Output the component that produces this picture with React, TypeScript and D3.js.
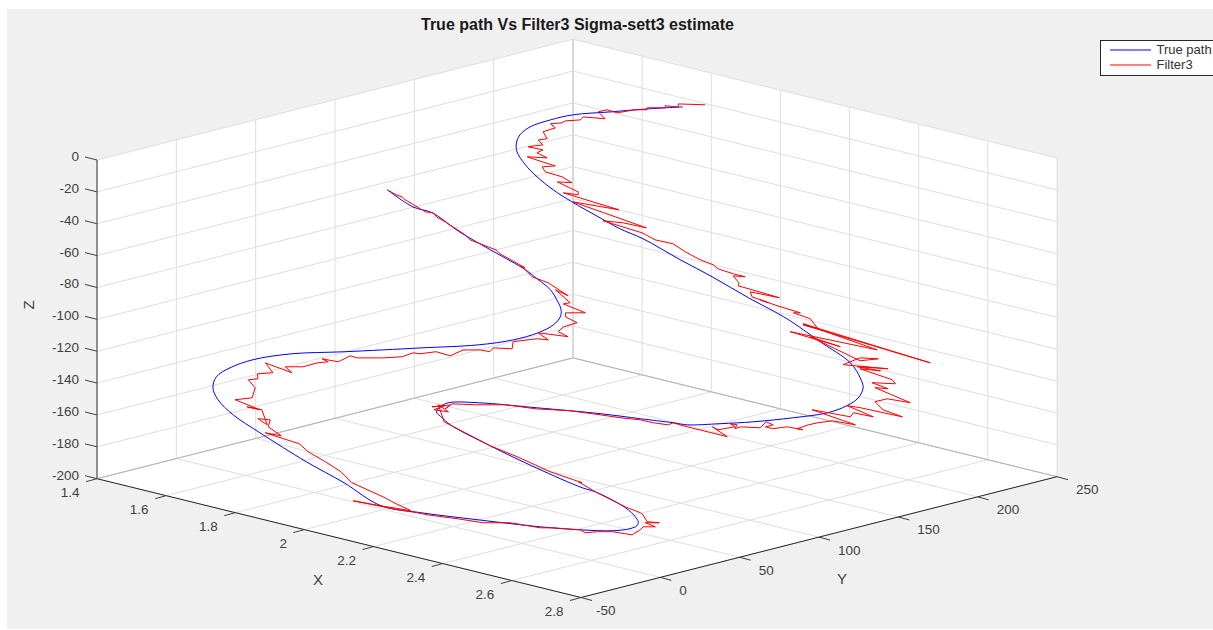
import React from "react";
import * as d3 from "d3";

const xTicks = [1.4, 1.6, 1.8, 2, 2.2, 2.4, 2.6, 2.8];
const yTicks = [-50, 0, 50, 100, 150, 200, 250];
const zTicks = [0, -20, -40, -60, -80, -100, -120, -140, -160, -180, -200];

const trueX = [1.891,1.842,1.793,1.743,1.719,1.701,1.700,1.709,1.725,1.760,1.798,1.845,1.893,1.962,2.010,2.062,2.153,2.230,2.320,2.396,2.429,2.501,2.583,2.623,2.645,2.655,2.652,2.636,2.594,2.542,2.497,2.451,2.426,2.371,2.303,2.199,2.105,2.061,2.056,2.059,2.078,2.103,2.197,2.303,2.406,2.432,2.504,2.534,2.547,2.552,2.547,2.526,2.476,2.412,2.309,2.213,2.141,2.047,1.955,1.836,1.766,1.717,1.689,1.675,1.679,1.699,1.745,1.819,1.926,2.004,2.047,2.071,2.080,2.076,2.065,2.046,2.015,1.975,1.943,1.865,1.780,1.707,1.668,1.601];
const trueY = [212.3,200.5,187.9,175.2,166.2,157.4,151.2,147,143.9,141.5,140.6,140.6,141.9,144.6,146.6,149.9,153.5,156.9,160.2,163.6,164.6,165.8,167.1,164.5,161.6,156.4,149.9,141.1,128.6,114.7,103.7,93.1,89.5,80.8,70.3,52.8,36.7,27.4,23.3,20.3,19.8,19.6,24.1,30,36.6,39.2,42.5,42.2,41.2,39.3,36,30,20.1,8.9,-7.7,-22.7,-32.5,-35.3,-39,-42.3,-43.9,-42.8,-39.9,-34.7,-27,-16.8,-2.8,14.4,39.8,58.6,71.3,81.8,89.4,94.7,97.6,99.7,101.8,102,101.7,98.8,95.6,94.4,90.7,89.2];
const trueZ = [-6.8,-7.7,-9,-10.3,-12.5,-15.6,-19.1,-22.6,-26.5,-32.2,-37.5,-43.2,-48.5,-55.5,-60.3,-64.7,-73.9,-81.4,-90.6,-98.1,-101.6,-109.9,-119.2,-125.7,-130.1,-134.5,-138,-141.1,-143.3,-145.1,-145.9,-146.4,-145.5,-143.7,-141.5,-138.9,-136.7,-136.7,-138.5,-140.7,-143.3,-146.4,-155.6,-165.3,-174,-175.8,-182.8,-186.8,-189,-190.7,-192,-192.9,-192.5,-191.2,-188.1,-185,-181.9,-171.8,-162.6,-149.9,-142,-135.4,-130.1,-125.3,-121.4,-117.8,-115.2,-114.3,-112.6,-111.3,-109.1,-106,-102.5,-99,-95.9,-92.4,-87.1,-82.3,-78.3,-70.4,-61.6,-53.3,-50.7,-43.2];

const filterX = [1.920,1.879,1.884,1.863,1.867,1.840,1.843,1.825,1.805,1.784,1.775,1.797,1.762,1.763,1.743,1.741,1.726,1.740,1.729,1.747,1.736,1.751,1.733,1.760,1.756,1.780,1.749,1.780,1.806,1.789,1.801,1.835,1.860,1.837,1.885,1.890,1.865,1.924,1.976,1.925,1.894,1.983,2.048,2.005,1.972,2.050,2.082,2.115,2.146,2.182,2.210,2.224,2.256,2.278,2.259,2.279,2.284,2.311,2.365,2.312,2.323,2.357,2.340,2.375,2.422,2.412,2.447,2.475,2.447,2.700,2.445,2.599,2.440,2.540,2.478,2.593,2.617,2.588,2.575,2.648,2.600,2.641,2.607,2.673,2.685,2.649,2.683,2.662,2.740,2.699,2.686,2.712,2.753,2.675,2.652,2.710,2.674,2.677,2.608,2.698,2.657,2.648,2.639,2.629,2.619,2.629,2.601,2.583,2.569,2.577,2.561,2.563,2.532,2.527,2.524,2.512,2.524,2.504,2.491,2.530,2.446,2.426,2.423,2.397,2.373,2.339,2.305,2.254,2.201,2.148,2.104,2.068,2.067,2.068,2.044,2.061,2.052,2.077,2.050,2.088,2.138,2.197,2.256,2.331,2.397,2.390,2.432,2.502,2.535,2.542,2.560,2.580,2.559,2.581,2.563,2.564,2.561,2.527,2.505,2.488,2.476,2.433,2.414,2.361,2.321,2.276,2.225,2.207,2.165,2.092,2.140,2.194,2.155,2.129,2.058,2.023,1.983,1.940,1.914,1.844,1.873,1.838,1.829,1.809,1.833,1.799,1.772,1.796,1.742,1.764,1.751,1.727,1.739,1.730,1.751,1.723,1.779,1.759,1.785,1.799,1.813,1.799,1.828,1.835,1.849,1.887,1.913,1.922,1.934,1.954,1.982,1.991,2.016,2.033,2.032,2.061,2.050,2.080,2.099,2.071,2.122,2.099,2.098,2.111,2.084,2.077,2.106,2.058,2.066,2.022,2.051,1.999,1.965,1.943,1.928,1.939,1.878,1.865,1.832,1.810,1.794,1.741,1.720,1.709,1.695,1.662,1.644,1.635,1.622,1.601];
const filterY = [220,212,210.8,207.2,206.5,200.9,200.1,196.4,189.7,187.7,184.2,183.7,177.6,175.5,170.5,168.8,164.7,164.8,159.5,158.1,154.9,154.5,149.2,152.6,149.7,150.9,145.1,147.8,150.4,145.9,145,148.3,149.1,144.9,147.6,146.5,142.6,148.4,153.5,146.4,142.2,149.7,155.1,149.8,144.3,151.9,153.3,157.3,158.1,159.7,161.8,161.8,164.6,167.2,163.8,163,161.6,164.4,169.8,163,161.7,164.5,163.1,166.1,170.6,168.4,171.4,170.1,166.9,191.9,167.3,180.4,160.3,170.1,164.6,171,177.3,172.1,164.2,176.6,167.8,173.4,167.9,173.7,173.2,166.3,169.1,165.4,170.6,165,160.1,159.5,162.8,153.2,149.9,153.8,149.1,146.7,137.5,145.2,139.5,137.1,134.5,130.6,125.7,127.1,123.4,118.2,116.6,119.7,118.8,114.6,108.8,106.5,108.6,106.8,107.3,100.8,100.1,101,91.4,89.5,87.2,83.3,80.4,75,69.9,62.1,52.4,44.3,35,28.2,24.2,27.2,20.8,25.3,20.3,24,23.5,18.9,21.3,24.1,28.3,32.8,38.5,37.7,39.2,42.8,45.2,45.3,44,47.3,43,44.6,40.8,38.7,34.3,29.3,24.7,20.6,20.1,12.5,8.5,1.1,-7.3,-13.8,-21.6,-23.9,-29.9,-39.3,-32.8,-25.1,-27.3,-28.5,-32.8,-32,-33.1,-34.6,-34.4,-40.7,-36.9,-37.5,-34.3,-37.6,-37.1,-33,-36.5,-33.6,-37.5,-31.5,-26.8,-25.9,-22.4,-20.8,-15.6,-14.2,-9.7,-9.5,-4,1.9,5.7,4.9,8.8,14.8,16.2,24.2,30.5,35.4,37.2,43,45.8,52,57.3,59.7,62.1,67.6,70.6,79.2,82.2,81.8,89.6,88.4,91.8,97.7,96.3,97.8,104,100.5,103.1,103.4,105.1,103.8,101.1,101.7,101.6,102.4,99.9,100.2,97.5,95.9,96.3,95.1,94.2,94.7,92.7,91.6,91,91.1,90.1,89.2];
const filterZ = [-5.9,-5.5,-6.8,-6.3,-7.2,-7.2,-8.1,-8.1,-9.4,-8.1,-9,-12,-11.2,-12.5,-12.9,-13.8,-14.2,-16,-17.7,-20.8,-21.3,-23.5,-24.3,-25.7,-27,-29.2,-28.7,-30.9,-32.7,-33.1,-35.3,-37.5,-40.1,-39.7,-44.1,-45.4,-44.5,-48.5,-52,-49.8,-48.5,-55.1,-59.9,-57.7,-56.8,-62.1,-65.2,-66.9,-70.4,-73.9,-76.1,-77.9,-80.1,-81.4,-81,-84,-85.4,-87.1,-90.6,-88,-90.2,-92.8,-91.5,-94.1,-97.2,-97.2,-99.8,-104.2,-102.5,-119.2,-102,-113.5,-105.5,-112.1,-107.7,-118.3,-117.4,-117,-120,-121.8,-120.9,-122.7,-121.8,-126.6,-128.4,-127.9,-130.6,-130.1,-136.7,-135,-136.3,-139.8,-142.9,-138.9,-138,-142.9,-141.1,-142.9,-139.8,-146.4,-144.6,-145.1,-145.5,-146.4,-148.1,-148.6,-147.3,-148.1,-147.3,-146.4,-145.1,-147.7,-147.3,-148.1,-146.4,-145.9,-147.3,-148.6,-147.3,-151.6,-146.8,-145.5,-146.4,-145.5,-144.2,-143.3,-142,-140.2,-139.4,-137.6,-137.6,-137.2,-139.4,-137.6,-138.5,-138,-139.8,-140.7,-137.6,-145.1,-149.9,-155.6,-160.4,-167,-171.8,-171.4,-175.8,-182.4,-185,-185.9,-189,-189.4,-189.4,-191.2,-191.2,-192.5,-194.7,-193.3,-193.3,-193.8,-192.5,-191.6,-191.6,-189.4,-189.4,-187.6,-185.9,-185,-183.3,-179.7,-181.9,-184.1,-180.6,-178,-171.8,-167,-162.6,-158.2,-154.7,-149.9,-151.2,-147.3,-144.2,-143.7,-146.4,-139.8,-138.5,-139.8,-135.4,-134.5,-130.1,-126.6,-126.2,-124,-123.5,-119.2,-123.5,-120.9,-120.9,-119.2,-118.7,-117.4,-118.7,-116.1,-117,-117,-116.5,-114.8,-115.2,-114.3,-116.1,-113.5,-113.5,-114.3,-112.6,-113,-109.9,-108.6,-109.1,-106,-107.7,-105.5,-103.4,-101.6,-99,-97.2,-97.2,-93.3,-92.8,-87.1,-89.7,-84,-81.4,-78.3,-76.6,-77.5,-71.3,-69.6,-66.9,-65.2,-63,-57.3,-55.1,-53.3,-52.9,-49.4,-47.6,-46.3,-45.4,-43.2];

const W = 1213, H = 630;
const ax = d3.scaleLinear().domain([1.4, 2.8]).range([0, 1]);
const ay = d3.scaleLinear().domain([-50, 250]).range([0, 1]);
const az = d3.scaleLinear().domain([-200, 0]).range([0, 1]);
const project = (x: number, y: number, z: number): [number, number] => {
  const a = ax(x), b = ay(y), c = az(z);
  return [97 + 484 * a + 476 * b, 478.7 + 118.8 * a - 120.8 * b - 318.7 * c];
};
const line3 = (xs: number[], ys: number[], zs: number[], smooth: boolean) => {
  const pts = xs.map((x, i) => project(x, ys[i], zs[i]));
  const gen = d3.line();
  if (smooth) gen.curve(d3.curveCatmullRom.alpha(0.5));
  return gen(pts) as string;
};
const seg = (a: [number, number], b: [number, number]) => `M${a[0]},${a[1]}L${b[0]},${b[1]}`;

const xMin = 1.4, xMax = 2.8, yMin = -50, yMax = 250, zMin = -200, zMax = 0;
const FONT = "'Liberation Sans', Arial, sans-serif";
const GRID = "#dedede";
const EDGE = "#b4b4b4";
const AXIS = "#262626";
const TEXT = "#404040";

export default function App() {
  const hull = [
    project(xMin, yMin, zMax),
    project(xMin, yMax, zMax),
    project(xMax, yMax, zMax),
    project(xMax, yMax, zMin),
    project(xMax, yMin, zMin),
    project(xMin, yMin, zMin),
  ];
  return (
    <svg width={W} height={H} style={{ position: "absolute", left: 0, top: 0, display: "block", background: "#fff" }}>
      <rect x={7} y={9} width={W - 7} height={H - 10} fill="#f0f0f0" />
      <polygon points={hull.map((p) => p.join(",")).join(" ")} fill="#fff" />
      <g fill="none" stroke={GRID} strokeWidth={1}>
        {zTicks.map((z) => (
          <path key={"zg" + z} d={seg(project(xMin, yMin, z), project(xMin, yMax, z)) + seg(project(xMin, yMax, z), project(xMax, yMax, z))} />
        ))}
        {yTicks.map((y) => (
          <path key={"yg" + y} d={seg(project(xMin, y, zMin), project(xMin, y, zMax)) + seg(project(xMin, y, zMin), project(xMax, y, zMin))} />
        ))}
        {xTicks.map((x) => (
          <path key={"xg" + x} d={seg(project(x, yMax, zMin), project(x, yMax, zMax)) + seg(project(x, yMax, zMin), project(x, yMin, zMin))} />
        ))}
      </g>
      <path
        d={seg(project(xMin, yMin, zMin), project(xMin, yMax, zMin)) + seg(project(xMin, yMax, zMin), project(xMax, yMax, zMin))}
        fill="none"
        stroke={EDGE}
      />
      <path d={seg(project(xMin, yMax, zMin), project(xMin, yMax, zMax))} fill="none" stroke="#cccccc" />
      <path d={line3(trueX, trueY, trueZ, true)} fill="none" stroke="#0000ff" strokeWidth={1} />
      <path d={line3(filterX, filterY, filterZ, false)} fill="none" stroke="#ff0000" strokeWidth={1} strokeLinejoin="round" />
      <g fill="none" stroke={AXIS} strokeWidth={1}>
        <path d={seg(project(xMin, yMin, zMin), project(xMax, yMin, zMin))} />
        <path d={seg(project(xMax, yMin, zMin), project(xMax, yMax, zMin))} />
      </g>
      <path d={seg(project(xMin, yMin, zMin), project(xMin, yMin, zMax))} fill="none" stroke="#707070" strokeWidth={1.5} />
      <g fill="none" stroke="#404040" strokeWidth={1}>
        {xTicks.map((x) => {
          const p = project(x, yMin, zMin);
          return <path key={"xt" + x} d={seg(p, [p[0] - 11, p[1] + 3])} />;
        })}
        {yTicks.map((y) => {
          const p = project(xMax, y, zMin);
          return <path key={"yt" + y} d={seg(p, [p[0] + 11, p[1] + 3])} />;
        })}
        {zTicks.map((z) => {
          const p = project(xMin, yMin, z);
          return <path key={"zt" + z} d={seg(p, [p[0] - 12, p[1] - 3])} />;
        })}
      </g>
      <g fontFamily={FONT} fontSize={13.5} fill={TEXT}>
        {xTicks.map((x) => {
          const p = project(x, yMin, zMin);
          return (
            <text key={"xl" + x} x={p[0] - 17.5} y={p[1] + 18} textAnchor="end">
              {x}
            </text>
          );
        })}
        {yTicks.map((y) => {
          const p = project(xMax, y, zMin);
          return (
            <text key={"yl" + y} x={p[0] + (y < 0 ? 15 : 19)} y={p[1] + 17.5}>
              {y}
            </text>
          );
        })}
        {zTicks.map((z) => {
          const p = project(xMin, yMin, z);
          return (
            <text key={"zl" + z} x={79} y={p[1] + 1} textAnchor="end">
              {z}
            </text>
          );
        })}
      </g>
      <g fontFamily={FONT} fontSize={15} fill={TEXT} textAnchor="middle">
        <text x={318} y={584.5}>X</text>
        <text x={842} y={583.5}>Y</text>
        <text transform="translate(34,305) rotate(-90)">Z</text>
      </g>
      <text x={577.5} y={30} textAnchor="middle" fontFamily={FONT} fontSize={16} fontWeight="bold" fill="#1a1a1a">
        True path Vs Filter3 Sigma-sett3 estimate
      </text>
      <g fontFamily={FONT} fontSize={13} fill="#333">
        <rect x={1100.5} y={40.5} width={120} height={35} fill="#fff" stroke="#262626" />
        <line x1={1110} x2={1151} y1={50} y2={50} stroke="#0000ff" />
        <line x1={1110} x2={1151} y1={65} y2={65} stroke="#ff0000" />
        <text x={1156.5} y={54}>True path</text>
        <text x={1156.5} y={69}>Filter3</text>
      </g>
    </svg>
  );
}
